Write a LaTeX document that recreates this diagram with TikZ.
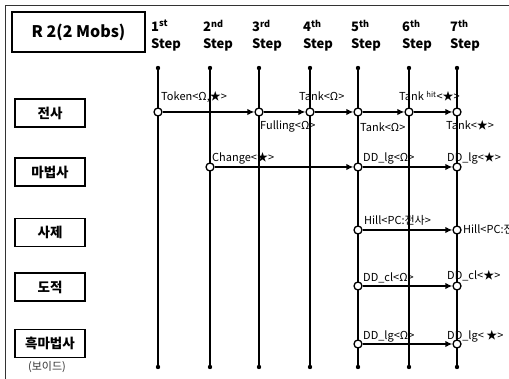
\documentclass[tikz,border=0pt]{standalone}
\usepackage{fontspec}
\setmainfont{Noto Sans CJK KR}
\usetikzlibrary{positioning,arrows.meta,calc}

\tikzset{
  titlebox/.style={draw, line width=1.4pt, minimum width=133pt, minimum height=40pt, inner sep=0pt, font=\fontsize{16}{18}\selectfont\bfseries},
  rolebox/.style={draw, line width=1.3pt, minimum width=70pt, minimum height=28pt, inner sep=0pt, font=\fontsize{13.5}{15}\selectfont\bfseries},
  stephead/.style={align=left, inner sep=0pt, font=\fontsize{13}{17}\selectfont\bfseries},
  stepline/.style={line width=1.4pt},
  ev/.style={circle, draw, fill=white, line width=1.3pt, inner sep=0pt, minimum size=8pt},
  flow/.style={-{Latex[length=7pt,width=6.5pt]}, line width=1.4pt},
  lbl/.style={anchor=base west, inner sep=0pt, font=\fontsize{11}{13}\selectfont}
}

\begin{document}
\begin{tikzpicture}[x=1pt,y=-1pt]
  \useasboundingbox (0,0) rectangle (509,379);
  \clip (0,0) rectangle (509,379);
  % frame
  \draw[line width=1pt, black!80] (5,6) rectangle (530,400);
  \node[titlebox] (title) at (78.5,32) {R 2(2 Mobs)};

  % step lines
  \foreach \x/\n/\s [count=\i] in {158/1/st, 210/2/nd, 259/3/rd, 310/4/th, 358/5/th, 409/6/th, 457/7/th} {
    \coordinate (top\i) at (\x,68);
    \coordinate (bot\i) at (\x,367);
    \draw[stepline] (top\i) -- (bot\i);
    \fill (top\i) circle (2.2pt) (bot\i) circle (2.2pt);
    \node[stephead, anchor=north west] (head\i) at (\x-7,20) {\n\textsuperscript{\s}\\Step};
  }

  % roles
  \node[rolebox] (warrior) at (50,113) {전사};
  \node[rolebox] (mage) at (50,172) {마법사};
  \node[rolebox] (priest) at (50,232.5) {사제};
  \node[rolebox] (rogue) at (50,287) {도적};
  \node[rolebox] (warlock) at (50,343.5) {흑마법사};
  \node[font=\fontsize{11}{12}\selectfont, text=black!80] (void) at (47,367) {(보이드)};

  % events
  \node[ev] (w1) at (158,112) {};
  \node[ev] (w3) at (259,112) {};
  \node[ev] (w4) at (310,112) {};
  \node[ev] (w5) at (358,112) {};
  \node[ev] (w6) at (409,112) {};
  \node[ev] (w7) at (457,112) {};
  \node[ev] (m2) at (210,167) {};
  \node[ev] (m5) at (358,167) {};
  \node[ev] (m7) at (457,167) {};
  \node[ev] (p5) at (358,230) {};
  \node[ev] (p7) at (457,230) {};
  \node[ev] (r5) at (358,286) {};
  \node[ev] (r7) at (457,286) {};
  \node[ev] (k5) at (358,344) {};
  \node[ev] (k7) at (457,344) {};

  \draw[flow] (w1) -- (w3);
  \draw[flow] (w3) -- (w4);
  \draw[flow] (w4) -- (w5);
  \draw[flow] (w5) -- (w6);
  \draw[flow] (w6) -- (w7);
  \draw[flow] (m2) -- (m5);
  \draw[flow] (m5) -- (m7);
  \draw[flow] (p5) -- (p7);
  \draw[flow] (r5) -- (r7);
  \draw[flow] (k5) -- (k7);

  % labels
  \node[lbl] (lw1) at (161,101) {Token<Ω,★>};
  \node[lbl] (lw4) at (299,101) {Tank<Ω>};
  \node[lbl] (lw6) at (399,101) {Tank \textsuperscript{hit}<★>};
  \node[lbl] (lw3) at (260,130) {Fulling<Ω>};
  \node[lbl] (lw5) at (360,132) {Tank<Ω>};
  \node[lbl] (lw7) at (446,130) {Tank<★>};
  \node[lbl] (lm2) at (212,162) {Change<★>};
  \node[lbl] (lm5) at (363,162) {DD\_lg<Ω>};
  \node[lbl] (lm7) at (447,162) {DD\_lg<★>};
  \node[lbl] (lp5) at (364,225) {Hill<PC:전사>};
  \node[lbl] (lp7) at (463,234) {Hill<PC:전사>};
  \node[lbl] (lr5) at (363,282) {DD\_cl<Ω>};
  \node[lbl] (lr7) at (447,280) {DD\_cl<★>};
  \node[lbl] (lk5) at (363,340) {DD\_lg<Ω>};
  \node[lbl] (lk7) at (447,340) {DD\_lg< ★>};
\end{tikzpicture}
\end{document}
